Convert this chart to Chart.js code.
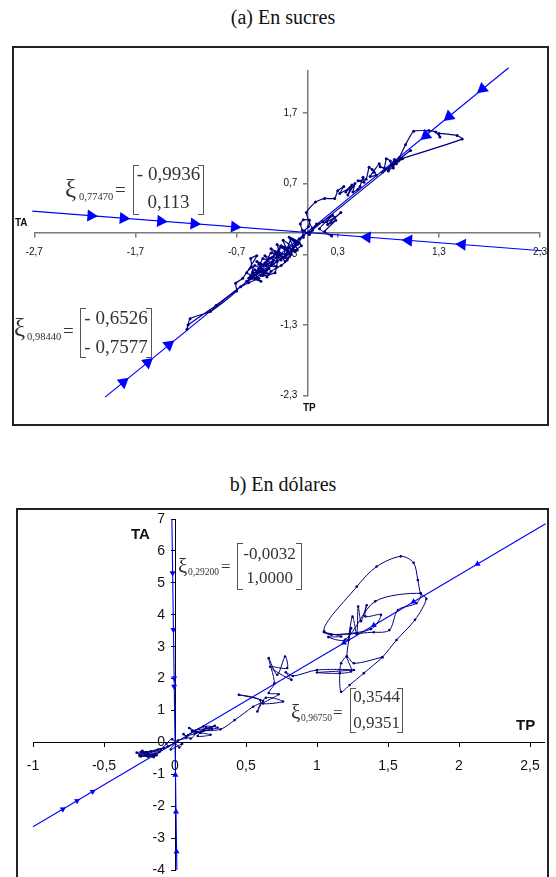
<!DOCTYPE html>
<html>
<head>
<meta charset="utf-8">
<script src="https://cdn.jsdelivr.net/npm/chart.js@4.4.1/dist/chart.umd.min.js"></script>
<style>
  body { margin: 0; width: 556px; height: 877px; overflow: hidden; background: #fff; position: relative; }
  .title { position: absolute; left: 0; width: 566px; text-align: center; font-family: 'Liberation Serif', serif; font-size: 20px; color: #111; height: 24px; line-height: 24px; }
  .box { position: absolute; border: 2px solid #222; box-sizing: border-box; }
  canvas { position: absolute; left: 0; }
  .lbl { position: absolute; font-family: 'Liberation Sans', Arial, sans-serif; font-weight: bold; color: #111; }
  .t { position: absolute; font-family: 'Liberation Serif', serif; color: #333; white-space: nowrap; }
  .mat { position: absolute; border: 1px solid #555; box-sizing: border-box; }
  .mat::before, .mat::after { content: ''; position: absolute; left: 5px; right: 5px; height: 1px; background: #fff; }
  .mat::before { top: -1px; }
  .mat::after { bottom: -1px; }
</style>
</head>
<body>

<div class="title" style="top:5px">(a) En sucres</div>
<div class="box" style="left:12px;top:46px;width:537px;height:380px"></div>
<canvas id="chartSucres" width="556" height="390" style="top:40px"></canvas>
<div class="lbl" style="left:15px;top:217px;font-size:10px">TA</div>
<div class="lbl" style="left:303px;top:402px;font-size:10px">TP</div>

<div class="title" style="top:472px">b) En dólares</div>
<div class="box" style="left:16px;top:508px;width:533px;height:400px"></div>
<canvas id="chartDolares" width="556" height="390" style="top:500px"></canvas>
<div class="lbl" style="left:131px;top:525px;font-size:15px">TA</div>
<div class="lbl" style="left:516px;top:716px;font-size:15px">TP</div>

<!-- ξ0,77470 -->
<div class="t" style="left:65px;top:175px;font-size:25px;line-height:28px;height:28px">ξ</div>
<div class="t" style="left:79px;top:190px;font-size:10.5px;line-height:14px">0,77470</div>
<div class="t" style="left:115px;top:178px;font-size:19px;line-height:24px">=</div>
<div class="mat" style="left:133px;top:165px;width:71px;height:50px"></div>
<div class="t" style="left:133px;width:71px;text-align:center;top:162px;font-size:19px;line-height:24px">- 0,9936</div>
<div class="t" style="left:133px;width:71px;text-align:center;top:190px;font-size:19px;line-height:24px">0,113</div>

<!-- ξ0,98440 -->
<div class="t" style="left:14px;top:314px;font-size:25px;line-height:28px;height:28px">ξ</div>
<div class="t" style="left:27px;top:330px;font-size:10.5px;line-height:14px">0,98440</div>
<div class="t" style="left:63px;top:319px;font-size:19px;line-height:24px">=</div>
<div class="mat" style="left:80px;top:308px;width:72px;height:50px"></div>
<div class="t" style="left:80px;width:72px;text-align:center;top:306px;font-size:19px;line-height:24px">- 0,6526</div>
<div class="t" style="left:80px;width:72px;text-align:center;top:335px;font-size:19px;line-height:24px">- 0,7577</div>

<!-- ξ0,29200 -->
<div class="t" style="left:178px;top:554px;font-size:21px;line-height:24px">ξ</div>
<div class="t" style="left:188px;top:566px;font-size:9.5px;line-height:12px">0,29200</div>
<div class="t" style="left:221px;top:556px;font-size:17px;line-height:22px">=</div>
<div class="mat" style="left:237px;top:543px;width:65px;height:47px"></div>
<div class="t" style="left:237px;width:65px;text-align:center;top:543px;font-size:17px;line-height:22px">-0,0032</div>
<div class="t" style="left:237px;width:65px;text-align:center;top:567px;font-size:17px;line-height:22px">1,0000</div>

<!-- ξ0,96750 -->
<div class="t" style="left:291px;top:700px;font-size:21px;line-height:24px">ξ</div>
<div class="t" style="left:301px;top:712px;font-size:9.5px;line-height:12px">0,96750</div>
<div class="t" style="left:333px;top:702px;font-size:17px;line-height:22px">=</div>
<div class="mat" style="left:350px;top:688px;width:53px;height:45px"></div>
<div class="t" style="left:350px;width:53px;text-align:center;top:686px;font-size:17px;line-height:22px">0,3544</div>
<div class="t" style="left:350px;width:53px;text-align:center;top:712px;font-size:17px;line-height:22px">0,9351</div>

<script>
// ---- (a) En sucres ----
const sucresXTicks = [-2.7, -1.7, -0.7, 0.3, 1.3, 2.3];
const sucresYTicks = [-2.3, -1.3, -0.3, 0.7, 1.7];

// vector propio ξ0,77470 (casi horizontal)
const sucresLine1X = [-2.72, 2.32];
const sucresLine1Y = [0.31, -0.25];
const sucresArrow1X = [-2.14, -1.82, -1.45, -1.12, -0.72, 0.59, 1.00, 1.53];
const sucresArrow1Y = [0.246, 0.21, 0.169, 0.132, 0.088, -0.058, -0.103, -0.162];

// vector propio ξ0,98440 (diagonal)
const sucresLine2X = [-2.0, 1.99];
const sucresLine2Y = [-2.32, 2.34];
const sucresArrow2X = [-1.82, -1.58, -1.37, 1.17, 1.40, 1.73];
const sucresArrow2Y = [-2.11, -1.83, -1.58, 1.38, 1.65, 2.04];

// trayectoria observada
const sucresTrajX = [0.05, -0.04, -0.10, -0.16, -0.20, -0.12, -0.26, -0.30, -0.20, -0.36, -0.40, -0.30, -0.44, -0.48,
  -0.38, -0.52, -0.56, -0.46, -0.60, -0.55, -0.56, -0.50, -0.64, -0.71, -0.70, -0.96, -1.16, -1.19, -1.18,
  -0.90, -0.66, -0.58, -0.48, -0.54, -0.42, -0.48, -0.36, -0.42, -0.30, -0.36, -0.26, -0.30, -0.20,
  -0.24, -0.14, -0.18, -0.08, -0.50, -0.60, -0.44, -0.50, -0.38, -0.44, -0.32, -0.28, -0.22, -0.16,
  -0.24, -0.10, -0.14, -0.06,
  -0.58, -0.52, -0.46, -0.40, -0.34, -0.44, -0.38, -0.30, -0.26, -0.32, -0.22, -0.18, -0.28, -0.34,
  -0.42, -0.54, -0.48, -0.40, -0.36, -0.26, -0.20, -0.12, -0.16, -0.08,
  -0.04,
  -0.05, -0.07, -0.04, 0.02, 0.01, -0.03, 0.02,
  0.09, 0.19, 0.27, 0.33, 0.20, 0.28, 0.17, 0.24, 0.12, 0.25, 0.15, 0.05,
  -0.01, 0.08, 0.17, 0.27, 0.30, 0.36, 0.32, 0.42, 0.38, 0.44, 0.40, 0.47, 0.45, 0.50, 0.52, 0.55,
  0.56, 0.50, 0.58, 0.61, 0.64, 0.66, 0.68, 0.62, 0.71, 0.72, 0.76, 0.78, 0.82, 0.83, 0.85, 0.86,
  0.80, 0.90, 0.91, 0.88, 0.97,
  1.05, 1.20, 1.27, 1.31, 1.30, 1.48, 1.53, 0.86, 0.94, 0.74, 1.02, 0.02];
const sucresTrajY = [0.04, -0.03, -0.16, -0.08, -0.24, -0.26, -0.18, -0.34, -0.36, -0.28, -0.44, -0.48, -0.36, -0.54,
  -0.58, -0.46, -0.62, -0.68, -0.56, -0.48, -0.36, -0.32, -0.64, -0.71, -0.82, -1.11, -1.21, -1.36, -1.30,
  -1.02, -0.76, -0.70, -0.64, -0.56, -0.54, -0.44, -0.46, -0.32, -0.40, -0.22, -0.32, -0.16, -0.26,
  -0.10, -0.20, -0.06, -0.14, -0.62, -0.68, -0.52, -0.40, -0.50, -0.60, -0.56, -0.28, -0.40, -0.30,
  -0.20, -0.24, -0.10, -0.18,
  -0.64, -0.52, -0.60, -0.52, -0.40, -0.46, -0.36, -0.30, -0.38, -0.26, -0.30, -0.20, -0.22, -0.34,
  -0.42, -0.60, -0.50, -0.62, -0.54, -0.46, -0.38, -0.14, -0.24, -0.08,
  -0.06,
  0.04, 0.13, 0.19, 0.18, 0.09, 0.03, -0.02,
  0.13, 0.16, 0.22, 0.29, 0.12, 0.18, 0.02, -0.04, 0.06, 0.25, 0.16, 0.07,
  0.29, 0.44, 0.49, 0.49, 0.60, 0.66, 0.56, 0.64, 0.58, 0.68, 0.54, 0.70, 0.58, 0.62, 0.66, 0.79,
  0.72, 0.74, 0.76, 0.93, 0.90, 0.86, 0.82, 0.80, 0.98, 0.94, 0.92, 1.05, 1.02, 0.96, 0.92, 1.04,
  0.88, 1.02, 1.07, 0.98, 1.25,
  1.44, 1.45, 1.43, 1.36, 1.41, 1.38, 1.33, 1.02, 1.05, 0.86, 1.17, 0.01];

// ---- (b) En dólares ----
const dolaresXTicks = [-1, -0.5, 0, 0.5, 1, 1.5, 2, 2.5];
const dolaresYTicks = [-4, -3, -2, -1, 0, 1, 2, 3, 4, 5, 6, 7];

// vector propio ξ0,96750
const dolaresLine1X = [-1.0, 2.61];
const dolaresLine1Y = [-2.64, 6.85];
const dolaresArrow1X = [-0.79, -0.69, -0.58, 1.19, 1.40, 1.68, 2.13];
const dolaresArrow1Y = [-2.09, -1.83, -1.54, 3.12, 3.67, 4.41, 5.59];

// vector propio ξ0,29200 (casi vertical)
const dolaresLine2X = [-0.022, 0.013];
const dolaresLine2Y = [7.0, -4.0];
const dolaresArrow2X = [-0.017, -0.011, -0.006, -0.006, 0.003, 0.007, 0.011];
const dolaresArrow2Y = [5.31, 3.53, 2.01, 1.75, -1.02, -2.17, -3.42];

const dolaresTrajX = [0.00, -0.05, -0.12, -0.20, -0.25, -0.16, -0.23, -0.19, -0.27, -0.11, -0.21, -0.14, -0.24, -0.08,
  -0.22, -0.17, -0.25, -0.13, -0.19, -0.24, -0.15, -0.10,
  -0.06, -0.02, 0.03, 0.05, -0.03, 0.02, 0.08, 0.06, 0.11, 0.14, 0.10, 0.18, 0.22, 0.16, 0.25,
  0.12, 0.26, 0.09, 0.20, 0.30, 0.15,
  0.28, 0.20, 0.32, 0.42, 0.55, 0.62, 0.45, 0.60, 0.58, 0.64, 0.76, 0.62, 0.73, 0.66, 0.70, 0.66,
  0.72, 0.775, 0.79, 0.67, 0.82, 0.78, 0.83, 1.00, 1.26, 1.00, 1.24, 1.21, 1.24, 1.22, 1.25, 1.28,
  1.29, 1.31, 1.35, 1.34, 1.45, 1.38, 1.10, 1.05, 1.17, 1.08, 1.20, 1.41, 1.73, 1.70, 1.57, 1.51,
  1.40, 1.05, 1.28, 1.42, 1.59, 1.68, 1.71, 1.73, 1.77, 1.69, 1.56, 1.46, 1.33, 1.23, 1.17, 1.16,
  1.17, 1.21, 1.26, 1.46];
const dolaresTrajY = [0.00, -0.12, -0.22, -0.30, -0.38, -0.42, -0.26, -0.45, -0.32, -0.30, -0.40, -0.36, -0.44, -0.18,
  -0.34, -0.28, -0.42, -0.40, -0.36, -0.30, -0.46, -0.24,
  -0.04, 0.10, -0.16, -0.04, -0.22, 0.06, 0.14, 0.26, 0.12, 0.28, 0.45, 0.30, 0.47, 0.20, 0.24,
  0.36, 0.44, 0.22, 0.50, 0.46, 0.32,
  0.52, 0.38, 0.41, 0.70, 1.12, 1.30, 1.49, 1.33, 0.97, 1.40, 1.28, 1.22, 1.51, 1.55, 1.85, 2.64,
  2.12, 2.69, 2.33, 2.37, 1.96, 2.20, 2.08, 2.27, 2.27, 2.19, 2.22, 2.69, 3.58, 3.20, 3.94, 3.40,
  4.26, 3.80, 4.30, 3.95, 4.00, 3.55, 3.37, 3.45, 3.32, 3.30, 3.22, 4.42, 4.67, 4.36, 4.15, 3.52,
  3.45, 3.48, 4.88, 5.51, 5.83, 5.63, 5.09, 4.67, 4.50, 3.84, 3.21, 2.67, 2.17, 1.80, 1.59, 2.17,
  2.48, 2.69, 2.48, 2.67];

const fontFamily = "'Liberation Sans', Arial, sans-serif";
Chart.defaults.font.family = fontFamily;

const blue = '#0000ff';
const navy = '#000080';

const pts = (xs, ys) => xs.map((x, i) => ({ x: x, y: ys[i] }));
const comma = (v) => String(v).replace('.', ',');

// las flechas apuntan hacia el origen
const towardOrigin = (ctx) => {
    const p = ctx.raw;
    if (!p) return 0;
    const xs = ctx.chart.scales.x, ys = ctx.chart.scales.y;
    const dx = xs.getPixelForValue(0) - xs.getPixelForValue(p.x);
    const dy = ys.getPixelForValue(0) - ys.getPixelForValue(p.y);
    return Math.atan2(dy, dx) * 180 / Math.PI + 90;
};

// etiquetas del eje Y a la izquierda del eje central (debajo de los datos)
const yLabels = {
    id: 'yLabels',
    beforeDatasetsDraw(chart, args, opts) {
        const xs = chart.scales.x, ys = chart.scales.y;
        const ctx = chart.ctx;
        const x0 = xs.getPixelForValue(0) - opts.offset;
        ctx.save();
        ctx.font = opts.size + 'px ' + fontFamily;
        ctx.fillStyle = '#111';
        ctx.textAlign = 'right';
        ctx.textBaseline = 'middle';
        opts.values.forEach(v => ctx.fillText(comma(v), x0, ys.getPixelForValue(v)));
        ctx.restore();
    }
};

function centerAxis(min, max, pos, tickVals, color, width, size, pad, showLabels) {
    return {
        type: 'linear', min: min, max: max, position: pos,
        afterBuildTicks: (axis) => { axis.ticks = tickVals.map(v => ({ value: v })); },
        grid: { display: true, drawOnChartArea: false, drawTicks: true, tickLength: 4, color: color, lineWidth: width },
        border: { display: true, color: color, width: width },
        ticks: { display: showLabels, autoSkip: false, maxRotation: 0, padding: pad, color: '#111', font: { size: size }, callback: comma }
    };
}

// gráfico (a)
new Chart(document.getElementById('chartSucres'), {
    type: 'scatter',
    data: {
        datasets: [
            {
                data: pts(sucresArrow1X.concat(sucresArrow2X), sucresArrow1Y.concat(sucresArrow2Y)),
                showLine: false, pointStyle: 'triangle', pointRadius: 7,
                backgroundColor: blue, borderColor: blue, borderWidth: 0,
                pointRotation: towardOrigin, clip: false
            },
            {
                data: pts(sucresTrajX, sucresTrajY),
                showLine: true, borderColor: navy, borderWidth: 1.2, tension: 0.15,
                pointRadius: 1.5, backgroundColor: navy, pointBorderWidth: 0, clip: false
            },
            {
                data: pts(sucresLine1X, sucresLine1Y),
                showLine: true, borderColor: blue, borderWidth: 1.2, pointRadius: 0, clip: false
            },
            {
                data: pts(sucresLine2X, sucresLine2Y),
                showLine: true, borderColor: blue, borderWidth: 1.2, pointRadius: 0, clip: false
            }
        ]
    },
    options: {
        responsive: false, animation: false,
        layout: { padding: { left: 34.3, right: 13.2, top: 30.5, bottom: 34.3 } },
        plugins: {
            legend: { display: false }, tooltip: { enabled: false },
            yLabels: { values: sucresYTicks, size: 10, offset: 10 }
        },
        scales: {
            x: centerAxis(-2.7, 2.3, { y: 0 }, sucresXTicks, '#7a7a7a', 1.5, 10, 9, true),
            y: centerAxis(-2.3, 2.3, { x: 0 }, sucresYTicks, '#7a7a7a', 1.5, 10, 7, false)
        }
    },
    plugins: [yLabels]
});

// gráfico (b)
new Chart(document.getElementById('chartDolares'), {
    type: 'scatter',
    data: {
        datasets: [
            {
                data: pts(dolaresArrow1X.concat(dolaresArrow2X), dolaresArrow1Y.concat(dolaresArrow2Y)),
                showLine: false, pointStyle: 'triangle', pointRadius: 3.5,
                backgroundColor: blue, borderColor: blue, borderWidth: 0,
                pointRotation: towardOrigin, clip: false
            },
            {
                data: pts(dolaresTrajX, dolaresTrajY),
                showLine: true, borderColor: navy, borderWidth: 1, tension: 0.3,
                pointRadius: 1.3, backgroundColor: navy, pointBorderWidth: 0, clip: false
            },
            {
                data: pts(dolaresLine1X, dolaresLine1Y),
                showLine: true, borderColor: blue, borderWidth: 1.1, pointRadius: 0, clip: false
            },
            {
                data: pts(dolaresLine2X, dolaresLine2Y),
                showLine: true, borderColor: blue, borderWidth: 1.1, pointRadius: 0, clip: false
            }
        ]
    },
    options: {
        responsive: false, animation: false,
        layout: { padding: { left: 33, right: 11.8, top: 19, bottom: 19.9 } },
        plugins: {
            legend: { display: false }, tooltip: { enabled: false },
            yLabels: { values: dolaresYTicks, size: 14, offset: 10 }
        },
        scales: {
            x: centerAxis(-1, 2.6, { y: 0 }, dolaresXTicks, '#000', 1, 14, 11, true),
            y: centerAxis(-4, 7, { x: 0 }, dolaresYTicks, '#000', 1, 14, 6, false)
        }
    },
    plugins: [yLabels]
});
</script>
</body>
</html>
